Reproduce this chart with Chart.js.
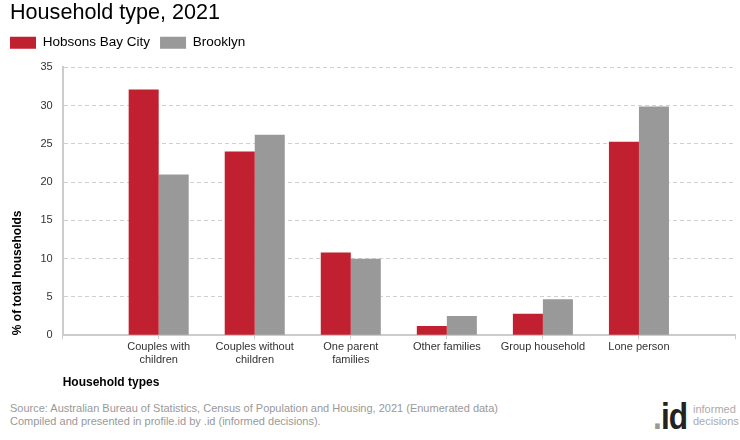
<!DOCTYPE html>
<html>
<head>
<meta charset="utf-8">
<script src="https://cdn.jsdelivr.net/npm/chart.js@4"></script>
<style>
  body { margin: 0; background: #fff; font-family: "Liberation Sans", Arial, sans-serif; }
  #wrap { position: relative; width: 740px; height: 440px; }
  #chart { position: absolute; left: 0; top: 0; }
  .source { position: absolute; left: 10px; font-size: 11px; color: #999; line-height: 13px; }
  .logo-id { position: absolute; left: 653px; top: 397px; font-size: 36px; font-weight: bold; color: #222;
             line-height: 40px; transform: scaleX(0.88); transform-origin: left top; letter-spacing: -1px; }
  .logo-id span { color: #999; }
  .logo-txt { position: absolute; left: 693px; top: 403px; font-size: 11px; color: #aaa; line-height: 12px; }
</style>
</head>
<body>
<div id="wrap">
  <canvas id="chart" width="740" height="390"></canvas>
  <div class="source" style="top:402px">Source: Australian Bureau of Statistics, Census of Population and Housing, 2021 (Enumerated data)</div>
  <div class="source" style="top:415px">Compiled and presented in profile.id by .id (informed decisions).</div>
  <div class="logo-id"><span>.</span>id</div>
  <div class="logo-txt">informed<br>decisions</div>
</div>
<script>
// categories (blank slots at both ends give the half-slot margins)
const categories = [
  '',
  ['Couples with', 'children'],
  ['Couples without', 'children'],
  ['One parent', 'families'],
  'Other families',
  'Group household',
  'Lone person',
  ''
];

const hobsonsBay = [null, 32.1, 24.0, 10.8, 1.2, 2.8, 25.3, null];
const brooklyn = [null, 21.0, 26.2, 10.0, 2.5, 4.7, 29.9, null];

const yTicks = [0, 5, 10, 15, 20, 25, 30, 35];

const RED = '#c0202f';
const GREY = '#999999';

// pull the legend to the left edge and leave room under it
const legendTweak = {
  id: 'legendTweak',
  beforeInit(chart) {
    const fit = chart.legend.fit;
    chart.legend.fit = function () {
      fit.bind(chart.legend)();
      this.height += 8;
    };
  },
  afterLayout(chart) {
    chart.legend.left -= 10;
    chart.legend.right -= 10;
  }
};

let ctx = document.getElementById('chart').getContext('2d');

let myChart = new Chart(ctx, {
  type: 'bar',
  data: {
    labels: categories,
    datasets: [{
      label: 'Hobsons Bay City',
      data: hobsonsBay,
      backgroundColor: RED
    }, {
      label: 'Brooklyn',
      data: brooklyn,
      backgroundColor: GREY
    }]
  },
  options: {
    responsive: false,
    animation: false,
    layout: { padding: { left: 10, right: 5, top: 0, bottom: 0 } },
    datasets: {
      bar: { categoryPercentage: 0.625, barPercentage: 1.0 }
    },
    plugins: {
      title: {
        display: true,
        text: 'Household type, 2021',
        align: 'start',
        color: '#000',
        font: { family: 'Liberation Sans', size: 21.6, weight: 'normal' },
        padding: { top: 0, bottom: 0 }
      },
      legend: {
        align: 'start',
        labels: {
          boxWidth: 26,
          boxHeight: 12,
          color: '#000',
          padding: 10,
          font: { family: 'Liberation Sans', size: 13.5 }
        }
      },
      tooltip: { enabled: false }
    },
    scales: {
      x: {
        offset: false,
        grid: { offset: false, drawOnChartArea: false, drawTicks: true, tickLength: 4, color: '#ccc' },
        border: { display: true, color: '#ccc', width: 2 },
        ticks: {
          autoSkip: false,
          maxRotation: 0,
          color: '#333',
          padding: 1,
          font: { family: 'Liberation Sans', size: 11 }
        },
        title: {
          display: true,
          text: 'Household types',
          align: 'start',
          color: '#000',
          font: { family: 'Liberation Sans', size: 12, weight: 'bold' },
          padding: { top: 8, bottom: 0 }
        }
      },
      y: {
        min: 0,
        max: 35,
        afterBuildTicks: function (axis) {
          axis.ticks = yTicks.map(function (v) { return { value: v }; });
        },
        grid: { color: '#d0d0d0', drawTicks: false },
        border: { display: true, color: '#ccc', width: 2, dash: [4, 3] },
        ticks: {
          color: '#333',
          padding: 10,
          font: { family: 'Liberation Sans', size: 11 }
        },
        title: {
          display: true,
          text: '% of total households',
          align: 'start',
          color: '#000',
          font: { family: 'Liberation Sans', size: 12, weight: 'bold' },
          padding: { top: 0, bottom: 6 }
        }
      }
    }
  },
  plugins: [legendTweak]
});
</script>
</body>
</html>
